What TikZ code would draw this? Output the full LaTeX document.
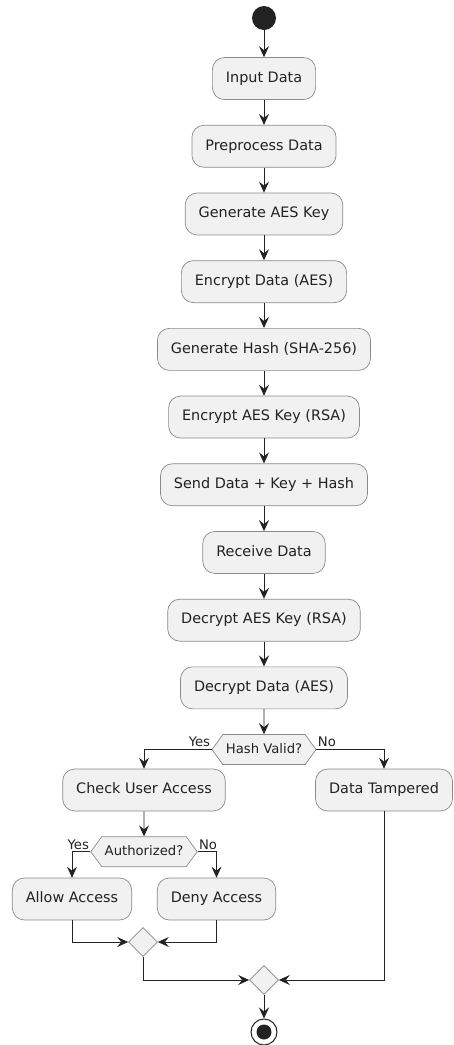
\documentclass[tikz,border=0pt]{standalone}
\usepackage{fontspec}
\setmainfont{DejaVu Sans}
\usetikzlibrary{shapes.geometric, shapes.symbols, arrows.meta, positioning, calc}
\definecolor{actfill}{HTML}{F1F1F1}
\definecolor{linecol}{HTML}{222222}
\definecolor{bordercol}{HTML}{8A8A8A}

\begin{document}
\begin{tikzpicture}[
    x=1pt, y=1pt,
    node distance=25pt,
    activity/.style={rectangle, rounded corners=12pt, draw=bordercol, fill=actfill, line width=0.7pt, minimum height=42pt, inner xsep=13.5pt, text height=10.5pt, text depth=3pt, text=linecol, font=\fontsize{14.4}{17}\selectfont},
    decision/.style={signal, signal to=west and east, signal pointer angle=108, draw=bordercol, fill=actfill, line width=0.7pt, minimum height=30pt, inner xsep=3pt, inner ysep=0pt, text height=10pt, text depth=3pt, text=linecol, font=\fontsize{13.2}{16}\selectfont},
    merge/.style={diamond, draw=bordercol, fill=actfill, line width=0.7pt, minimum size=29pt, inner sep=0pt},
    startnode/.style={circle, fill=linecol, minimum size=24pt, inner sep=0pt},
    stopnode/.style={circle, draw=linecol, line width=1pt, fill=white, minimum size=26pt, inner sep=0pt, path picture={\fill[linecol] (path picture bounding box.center) circle (7.5pt);}},
    branch/.style={font=\fontsize{13.2}{16}\selectfont, inner xsep=1pt, inner ysep=2pt, text=linecol},
    arrow/.style={-{Stealth[length=11pt, width=10pt, inset=4pt]}, line width=0.9pt, draw=linecol}
]
    \useasboundingbox (0,0) rectangle (454,-1045);

    % Sender side
    \node[startnode] (start) at (264,-18) {};
    \node[activity, below=27pt of start] (input) {Input Data};
    \node[activity, below=of input] (prep) {Preprocess Data};
    \node[activity, below=of prep] (genkey) {Generate AES Key};
    \node[activity, below=of genkey] (encdata) {Encrypt Data (AES)};
    \node[activity, below=of encdata] (genhash) {Generate Hash (SHA-256)};
    \node[activity, below=of genhash] (enckey) {Encrypt AES Key (RSA)};
    \node[activity, below=of enckey] (send) {Send Data + Key + Hash};

    % Receiver side
    \node[activity, below=of send] (recv) {Receive Data};
    \node[activity, below=of recv] (deckey) {Decrypt AES Key (RSA)};
    \node[activity, below=of deckey] (decdata) {Decrypt Data (AES)};
    \node[decision, below=of decdata] (hash) {Hash Valid?};

    % Branches
    \node[activity] (check) at (144,-790) {Check User Access};
    \node[activity] (tamper) at (384,-790) {Data Tampered};
    \node[decision, below=of check] (auth) {Authorized?};
    \node[activity] (allow) at (72,-899) {Allow Access};
    \node[activity] (deny) at (216.5,-899) {Deny Access};
    \node[merge] (merge1) at (143,-942) {};
    \node[merge] (merge2) at (264,-980) {};
    \node[stopnode] (stop) at (264,-1032) {};

    % Connections
    \draw[arrow] (start) -- (input);
    \draw[arrow] (input) -- (prep);
    \draw[arrow] (prep) -- (genkey);
    \draw[arrow] (genkey) -- (encdata);
    \draw[arrow] (encdata) -- (genhash);
    \draw[arrow] (genhash) -- (enckey);
    \draw[arrow] (enckey) -- (send);
    \draw[arrow] (send) -- (recv);
    \draw[arrow] (recv) -- (deckey);
    \draw[arrow] (deckey) -- (decdata);
    \draw[arrow] (decdata) -- (hash);

    \draw[arrow] (hash.west) node[branch, above left] {Yes} -| (check);
    \draw[arrow] (hash.east) node[branch, above right] {No} -| (tamper);
    \draw[arrow] (check) -- (auth);
    \draw[arrow] (auth.west) node[branch, above left] {Yes} -| (allow);
    \draw[arrow] (auth.east) node[branch, above right] {No} -| (deny);

    \draw[arrow] (allow.south) |- (merge1.west);
    \draw[arrow] (deny.south) |- (merge1.east);
    \draw[arrow] (merge1.south) |- (merge2.west);
    \draw[arrow] (tamper.south) |- (merge2.east);
    \draw[arrow] (merge2) -- (stop);

\end{tikzpicture}
\end{document}
